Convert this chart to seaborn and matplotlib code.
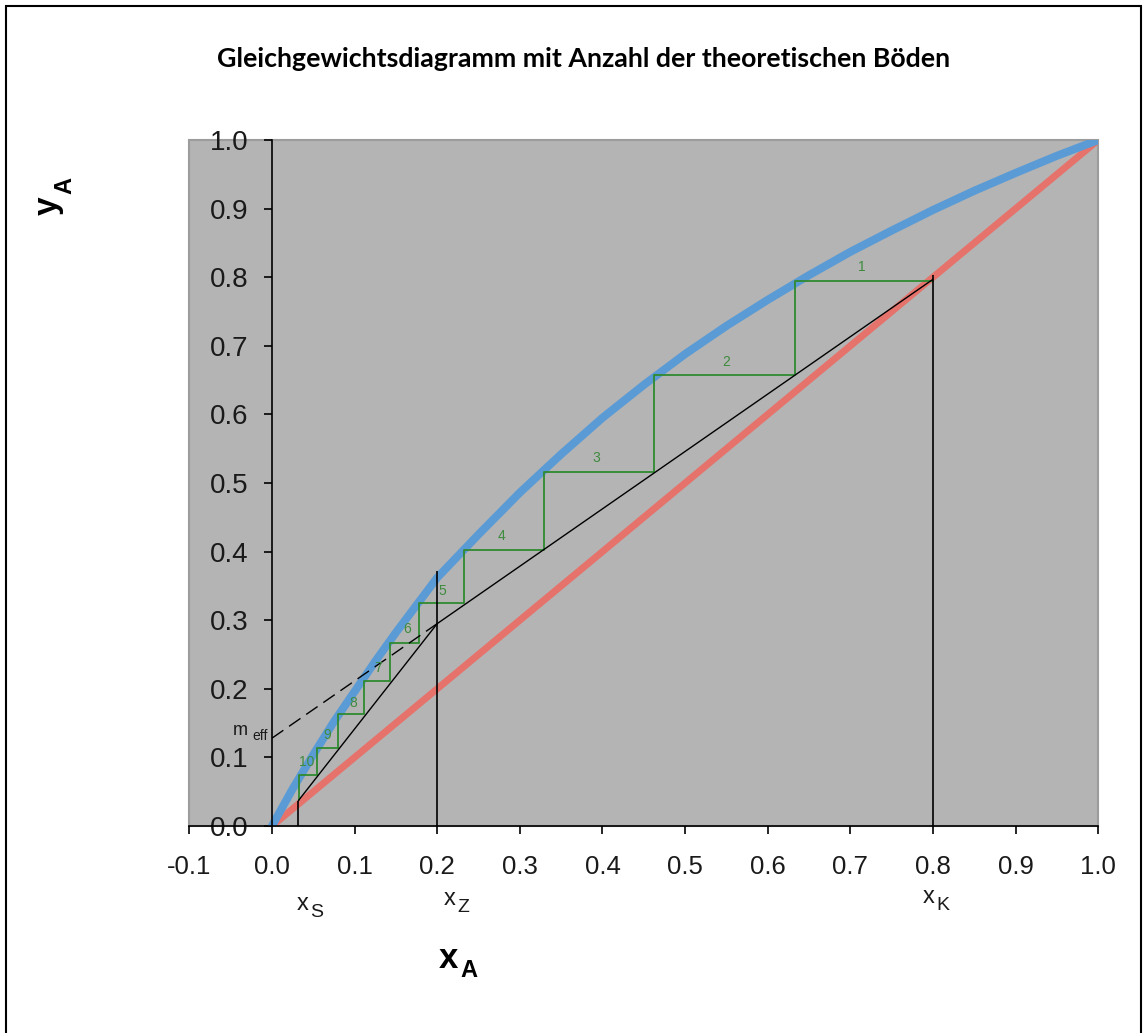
import matplotlib
matplotlib.use("Agg")
import matplotlib.pyplot as plt
from matplotlib.patches import Rectangle
import seaborn as sns

# ---------------- data ----------------
title = "Gleichgewichtsdiagramm mit Anzahl der theoretischen Böden"

# equilibrium curve (blue)
x_eq = [0.0, 0.025, 0.05, 0.075, 0.1, 0.125, 0.15, 0.175, 0.2, 0.25, 0.3, 0.35,
        0.4, 0.45, 0.5, 0.55, 0.6, 0.65, 0.7, 0.75, 0.8, 0.85, 0.9, 0.95, 1.0]
y_eq = [0.0, 0.054, 0.104, 0.152, 0.196, 0.240, 0.282, 0.322, 0.362, 0.425, 0.486, 0.542,
        0.595, 0.643, 0.688, 0.729, 0.767, 0.803, 0.837, 0.868, 0.898, 0.926, 0.952, 0.977, 1.0]

# diagonal (red)
x_diag = [0.0, 1.0]
y_diag = [0.0, 1.0]

# operating lines
rect_x = [0.2, 0.8]
rect_y = [0.295, 0.797]
strip_x = [0.032, 0.2]
strip_y = [0.037, 0.295]
meff_x = [0.0, 0.2]
meff_y = [0.128, 0.295]

# theoretical stages (points on the equilibrium curve)
stage_x = [0.633, 0.4625, 0.329, 0.233, 0.178, 0.143, 0.111, 0.080, 0.055, 0.033]
stage_y = [0.794, 0.658, 0.516, 0.403, 0.325, 0.267, 0.212, 0.163, 0.113, 0.074]
stage_start_x = 0.8
stage_end_y = 0.038
stage_labels = ["1", "2", "3", "4", "5", "6", "7", "8", "9", "10"]
label_x = [0.714, 0.550, 0.392, 0.278, 0.206, 0.164, 0.128, 0.098, 0.067, 0.042]
label_y = [0.815, 0.677, 0.536, 0.423, 0.343, 0.287, 0.231, 0.180, 0.132, 0.093]

# vertical markers x_S, x_Z, x_K
vert_x = [0.032, 0.2, 0.8]
vert_top = [0.037, 0.372, 0.803]

xticks = [-0.1, 0.0, 0.1, 0.2, 0.3, 0.4, 0.5, 0.6, 0.7, 0.8, 0.9, 1.0]
xtick_labels = ["-0.1", "0.0", "0.1", "0.2", "0.3", "0.4", "0.5", "0.6", "0.7", "0.8", "0.9", "1.0"]
yticks = [0.0, 0.1, 0.2, 0.3, 0.4, 0.5, 0.6, 0.7, 0.8, 0.9, 1.0]
ytick_labels = ["0.0", "0.1", "0.2", "0.3", "0.4", "0.5", "0.6", "0.7", "0.8", "0.9", "1.0"]

# ---------------- style ----------------
sns.set_theme(style="white")
plt.rcParams["font.family"] = ["Liberation Sans", "DejaVu Sans"]

W, H = 1146, 1033
fig = plt.figure(figsize=(W / 100, H / 100), dpi=100)
fig.patch.set_facecolor("white")


def fx(px):
    return px / W


def fy(py):
    return 1 - py / H


ax = fig.add_axes([fx(189.3), fy(826), 909 / W, 686 / H])
ax.set_facecolor("#b4b4b4")

green = "#2f8a2f"

sns.lineplot(x=x_diag, y=y_diag, color="#e5736c", lw=5, ax=ax, zorder=2)
sns.lineplot(x=x_eq, y=y_eq, color="#5b9bd5", lw=5.8, ax=ax, zorder=2)

# staircase
sx = [stage_start_x]
sy = [stage_y[0]]
for i, (xs, ys) in enumerate(zip(stage_x, stage_y)):
    nxt = stage_y[i + 1] if i + 1 < len(stage_y) else stage_end_y
    sx += [xs, xs]
    sy += [ys, nxt]
sns.lineplot(x=sx, y=sy, color=green, lw=1.3, sort=False, estimator=None, ax=ax, zorder=3)

sns.lineplot(x=rect_x, y=rect_y, color="black", lw=1.0, ax=ax, zorder=3)
sns.lineplot(x=strip_x, y=strip_y, color="black", lw=1.0, ax=ax, zorder=3)
sns.lineplot(x=meff_x, y=meff_y, color="black", lw=1.0, linestyle=(0, (10, 5)), ax=ax, zorder=3)
ax.vlines(vert_x, 0, vert_top, colors="black", lw=1.2, zorder=3)

for t, x, y in zip(stage_labels, label_x, label_y):
    ax.text(x, y, t, color="#3d8b3d", fontsize=10, ha="center", va="center", zorder=4)

ax.text(-0.047, 0.133, "m", fontsize=13, color="#1a1a1a", ha="left", va="baseline")
ax.text(-0.024, 0.125, "eff", fontsize=10, color="#1a1a1a", ha="left", va="baseline")

ax.set_xlim(-0.1, 1.0)
ax.set_ylim(0.0, 1.0)
ax.set_xticks(xticks)
ax.set_xticklabels(xtick_labels)
ax.set_yticks(yticks)
ax.set_yticklabels(ytick_labels)
ax.set_xlabel("")
ax.set_ylabel("")

for s in ["top", "right"]:
    ax.spines[s].set_visible(False)
ax.spines["left"].set_position(("data", 0))
ax.spines["left"].set_color("black")
ax.spines["left"].set_linewidth(1.2)
ax.spines["bottom"].set_color("black")
ax.spines["bottom"].set_linewidth(1.2)
ax.add_patch(Rectangle((0, 0), 1, 1, transform=ax.transAxes, fill=False,
                       edgecolor="#9c9c9c", lw=1.5, clip_on=False, zorder=0.5))

ax.tick_params(axis="both", direction="out", length=6, width=1.2, color="black",
               labelcolor="#1a1a1a", bottom=True, left=True)
ax.tick_params(axis="x", pad=15, labelsize=18.5)
ax.tick_params(axis="y", pad=11, labelsize=20)

# labels under the x axis
for base, sub, px, py in [("x", "S", 297, 910), ("x", "Z", 444, 905), ("x", "K", 923, 903)]:
    fig.text(fx(px), fy(py), base, fontsize=17, color="#1a1a1a", ha="left", va="baseline")
    fig.text(fx(px + 13), fy(py + 7), sub, fontsize=14, color="#1a1a1a", ha="left", va="baseline")

# axis titles
fig.text(fx(439), fy(968), "x", fontsize=25, fontweight="bold", ha="left", va="baseline", color="black")
fig.text(fx(460), fy(977), "A", fontsize=17, fontweight="bold", ha="left", va="baseline", color="black")
fig.text(fx(57), fy(215), "y", fontsize=24, fontweight="bold", rotation=90, rotation_mode="anchor",
         ha="left", va="baseline", color="black")
fig.text(fx(71), fy(194), "A", fontsize=17, fontweight="bold", rotation=90, rotation_mode="anchor",
         ha="left", va="baseline", color="black")

fig.text(fx(583.5), fy(59), title, fontsize=19.3, fontweight="bold", family=["Lato", "DejaVu Sans"],
         ha="center", va="center", color="black")

fig.add_artist(Rectangle((fx(5.5), -0.01), (1140.5 - 5.5) / W, fy(5.5) + 0.01,
                         transform=fig.transFigure, fill=False, edgecolor="black", lw=1.5))

fig.savefig("out.png", dpi=100)
